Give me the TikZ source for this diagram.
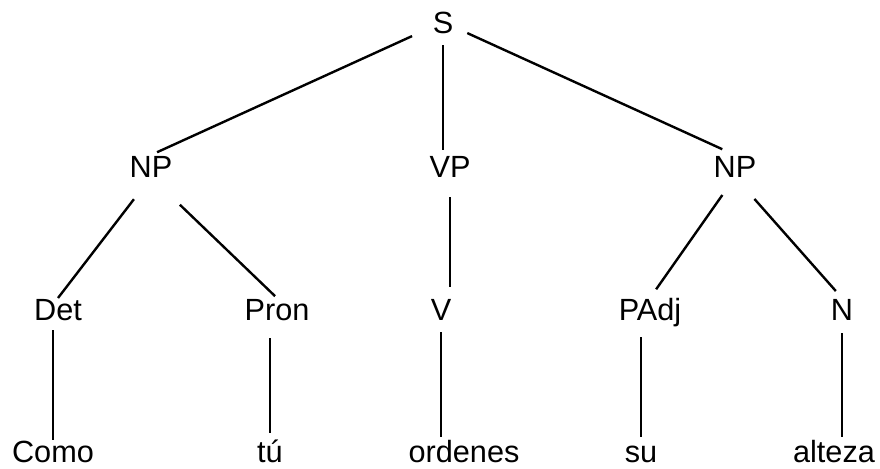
\documentclass[tikz,border=0pt]{standalone}
\usepackage{fontspec}
\setmainfont{Liberation Sans}

\tikzset{
  cat/.style={font=\fontsize{23}{27}\selectfont, inner sep=0pt, outer sep=0pt,
    text height=16.5pt, text depth=0pt, anchor=base},
  branch/.style={line width=1.8pt},
}

\begin{document}
\begin{tikzpicture}[x=0.75pt,y=0.75pt,yscale=-1]
\useasboundingbox (0,0) rectangle (880,468);

% Text Node
\node [cat] (S) at (443,33) {S};
% Text Node
\node [cat] (NPa) at (151,177) {NP};
% Text Node
\node [cat] (VP) at (450,177) {VP};
% Text Node
\node [cat] (NPb) at (735,177) {NP};
% Text Node
\node [cat] (Det) at (58,320) {Det};
% Text Node
\node [cat] (Pron) at (277,320) {Pron};
% Text Node
\node [cat] (V) at (441,320) {V};
% Text Node
\node [cat] (PAdj) at (650,320) {PAdj};
% Text Node
\node [cat] (N) at (842,320) {N};
% Text Node
\node [cat] (Como) at (53,462) {Como};
% Text Node
\node [cat] (tu) at (270,462) {tú};
% Text Node
\node [cat] (ordenes) at (464,462) {ordenes};
% Text Node
\node [cat] (su) at (641,462) {su};
% Text Node
\node [cat] (alteza) at (834,462) {alteza};

%Straight Lines
\draw [branch, shorten <=25.5pt, shorten >=5pt] (S.center) -- (NPa.north);
\draw [branch, shorten <=9pt, shorten >=3.75pt] (S.south) -- (S.south |- VP.north);
\draw [branch, shorten <=20pt, shorten >=10.5pt] (S.center) -- (NPb.north);
%Straight Lines
\draw [branch, shorten <=21pt] (NPa.south) -- (Det.north);
\draw [branch, shorten <=30pt, shorten >=2pt] (NPa.south) -- (Pron.north);
\draw [branch, shorten <=15pt, shorten >=8.25pt] (VP.south) -- (VP.south |- V.north);
\draw [branch, shorten <=16.5pt, shorten >=8pt] (NPb.south) -- (PAdj.north);
\draw [branch, shorten <=22pt, shorten >=7pt] (NPb.south) -- (N.north);
%Straight Lines
\draw [branch, shorten <=7.5pt] (Como.north |- Det.south) -- (Como.north);
\draw [branch, shorten <=13.5pt, shorten >=5.25pt] (tu.north |- Pron.south) -- (tu.north);
\draw [branch, shorten <=9pt, shorten >=2.25pt] (V.south) -- (V.south |- ordenes.north);
\draw [branch, shorten <=12.75pt, shorten >=2.25pt] (su.north |- PAdj.south) -- (su.north);
\draw [branch, shorten <=9.75pt, shorten >=2.25pt] (N.south) -- (N.south |- alteza.north);
\end{tikzpicture}
\end{document}
